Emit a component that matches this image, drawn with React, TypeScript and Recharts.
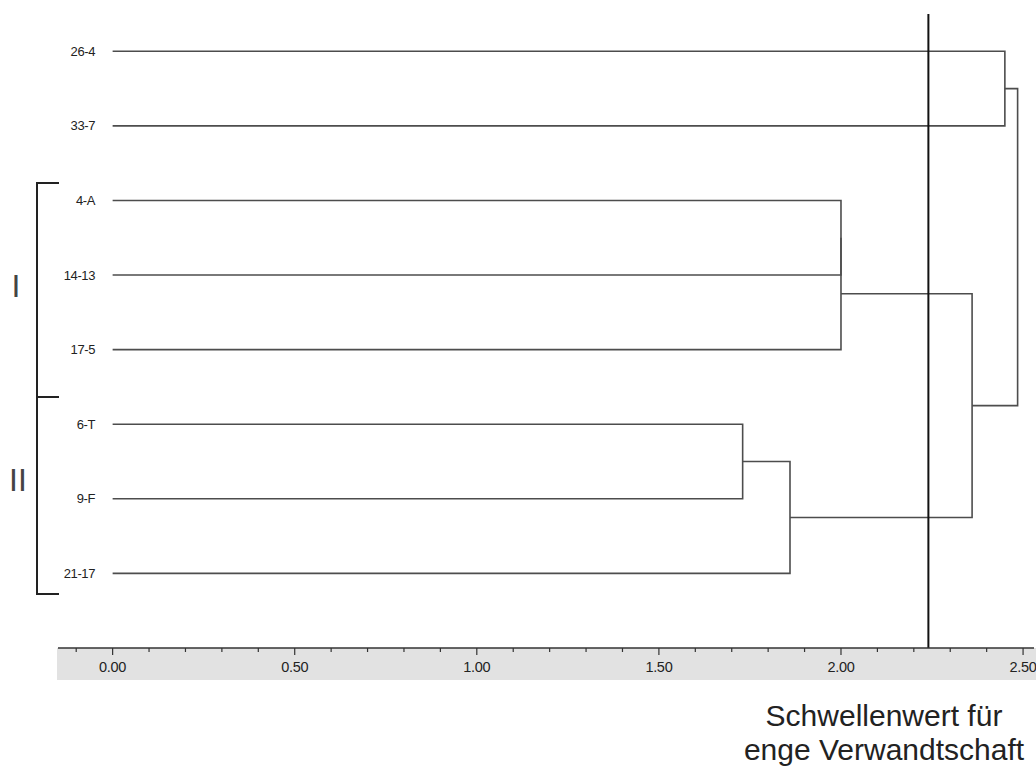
import React from 'react';
import { ComposedChart, Line, XAxis, YAxis, ReferenceLine } from 'recharts';

// leaf order top to bottom
const LEAVES = ['26-4', '33-7', '4-A', '14-13', '17-5', '6-T', '9-F', '21-17'];

// linkage rows: nodes 0-7 are leaves, merge k creates node 8 + k
const MERGE_LEFT = [0, 2, 9, 5, 11, 10, 8];
const MERGE_RIGHT = [1, 3, 4, 6, 7, 12, 13];
const MERGE_HEIGHT = [2.45, 2.0, 2.0, 1.73, 1.86, 2.36, 2.485];

const THRESHOLD = 2.24;

const AXIS_TICKS = [
  -0.1, 0, 0.1, 0.2, 0.3, 0.4, 0.5, 0.6, 0.7, 0.8, 0.9, 1.0, 1.1, 1.2, 1.3,
  1.4, 1.5, 1.6, 1.7, 1.8, 1.9, 2.0, 2.1, 2.2, 2.3, 2.4, 2.5,
];
const AXIS_LABELS = [0, 0.5, 1.0, 1.5, 2.0, 2.5];

type Pt = { x: number; y: number };

// turn the linkage into elbow polylines (child -> merge height -> other child)
const buildLinks = (): Pt[][] => {
  const nodeX: number[] = LEAVES.map(() => 0);
  const nodeY: number[] = LEAVES.map((_, i) => i);
  return MERGE_HEIGHT.map((h, k) => {
    const a = MERGE_LEFT[k];
    const b = MERGE_RIGHT[k];
    const pts = [
      { x: nodeX[a], y: nodeY[a] },
      { x: h, y: nodeY[a] },
      { x: h, y: nodeY[b] },
      { x: nodeX[b], y: nodeY[b] },
    ];
    nodeX.push(h);
    nodeY.push((nodeY[a] + nodeY[b]) / 2);
    return pts;
  });
};

const links = buildLinks();

const DistanceTick = (props: any) => {
  const { x, y, payload } = props;
  const v = payload.value as number;
  const major = AXIS_LABELS.some((m) => Math.abs(m - v) < 1e-6);
  return (
    <g>
      <line x1={x} x2={x} y1={y} y2={y + (major ? 7 : 4)} stroke="#333" strokeWidth={1.2} />
      {major && (
        <text x={x} y={y + 24} textAnchor="middle" fontSize={14.5} letterSpacing={-0.3} fill="#222">
          {v.toFixed(2)}
        </text>
      )}
    </g>
  );
};

const LeafTick = (props: any) => {
  const { x, y, payload } = props;
  return (
    <text x={x + 37} y={y + 4.5} textAnchor="end" fontSize={13} letterSpacing={-0.4} fill="#222">
      {LEAVES[payload.value]}
    </text>
  );
};

const App = () => {
  return (
    <div
      style={{
        position: 'absolute',
        left: 0,
        top: 0,
        width: 1036,
        height: 771,
        background: '#fff',
        overflow: 'hidden',
        fontFamily: '"Liberation Sans", Arial, sans-serif',
      }}
    >
      {/* grey scale band under the axis */}
      <div style={{ position: 'absolute', left: 57, top: 648, width: 979, height: 32, background: '#e2e2e2' }} />

      <div style={{ position: 'absolute', left: 0, top: 0 }}>
        <ComposedChart width={1036} height={771} margin={{ top: 14, right: 2, bottom: 93, left: 0 }}>
          <XAxis
            dataKey="x"
            type="number"
            domain={[-0.15, 2.53]}
            allowDataOverflow
            ticks={AXIS_TICKS}
            interval={0}
            tickSize={0}
            tickMargin={0}
            tickLine={false}
            tick={<DistanceTick />}
            axisLine={{ stroke: '#333', strokeWidth: 1.5 }}
            height={30}
          />
          <YAxis
            type="number"
            domain={[-0.5, 8]}
            reversed
            allowDataOverflow
            ticks={LEAVES.map((_, i) => i)}
            interval={0}
            width={58}
            tickSize={0}
            tickMargin={0}
            axisLine={false}
            tickLine={false}
            tick={<LeafTick />}
          />
          {links.map((pts, i) => (
            <Line
              key={i}
              data={pts}
              dataKey="y"
              type="linear"
              stroke="#4d4d4d"
              strokeWidth={1.6}
              dot={false}
              activeDot={false}
              isAnimationActive={false}
            />
          ))}
          <ReferenceLine x={THRESHOLD} stroke="#111" strokeWidth={2} />
        </ComposedChart>
      </div>

      {/* group brackets and caption */}
      <svg
        width={1036}
        height={771}
        style={{ position: 'absolute', left: 0, top: 0, pointerEvents: 'none' }}
      >
        <g stroke="#222" strokeWidth={2} fill="none">
          <polyline points="59,183 37,183 37,594 59,594" />
          <line x1={37} y1={397} x2={59} y2={397} />
        </g>
        <text x={16} y={297} textAnchor="middle" fontSize={32} fill="#444">I</text>
        <text x={18} y={491} textAnchor="middle" fontSize={32} fill="#444">II</text>
        <text x={884} y={726} textAnchor="middle" fontSize={30} fill="#222">Schwellenwert für</text>
        <text x={884} y={760} textAnchor="middle" fontSize={30} fill="#222">enge Verwandtschaft</text>
      </svg>
    </div>
  );
};

export default App;
